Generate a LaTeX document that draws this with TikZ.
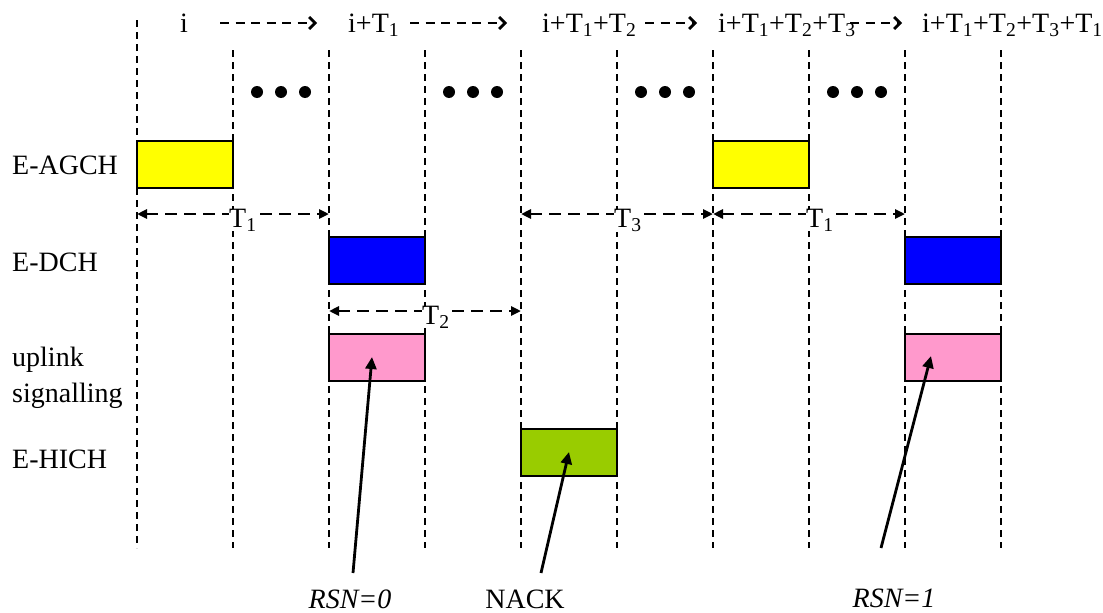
\documentclass[tikz,border=0pt]{standalone}
\usepackage{fontspec}
\setmainfont{Liberation Serif}
\usetikzlibrary{arrows.meta}
\definecolor{boxyellow}{HTML}{FFFF00}
\definecolor{boxblue}{HTML}{0000FF}
\definecolor{boxpink}{HTML}{FF99CC}
\definecolor{boxgreen}{HTML}{99CC00}
\begin{document}
\begin{tikzpicture}[x=1pt,y=-1pt,
  every node/.style={font=\fontsize{28}{33}\selectfont, inner sep=0pt},
  vline/.style={line width=1.6pt, dash pattern=on 6.5pt off 5.5pt},
  toparrow/.style={line width=2.8pt, dash pattern=on 9pt off 6.5pt, -{Straight Barb[length=6pt,width=12pt,line width=2.8pt]}},
  dimarrow/.style={line width=2.6pt, dash pattern=on 12pt off 7pt, {Triangle[length=10pt,width=9pt]}-{Triangle[length=10pt,width=9pt]}},
  ptrarrow/.style={line width=2.8pt, -{Triangle[length=12pt,width=11pt]}},
  slot/.style={draw, line width=2pt, minimum width=96pt, minimum height=47pt},
  dot/.style={circle, fill=black, minimum size=12pt, inner sep=0pt},
  rowlabel/.style={anchor=base west, align=left},
  dimlabel/.style={anchor=base west, fill=white, inner xsep=0pt},
]
\useasboundingbox (0,0) rectangle (1103,613);
% vertical time lines
\coordinate (l0t) at (137,20);
\coordinate (l0b) at (137,548);
\foreach \k in {1,...,9}{
  \coordinate (l\k t) at ({137+96*\k},50);
  \coordinate (l\k b) at ({137+96*\k},548);
}
\foreach \k in {0,...,9}{ \draw[vline] (l\k t) -- (l\k b); }
% top labels
\node[anchor=base] (t0) at (184,32) {i};
\node[anchor=base west] (t1) at (348,32) {i+T\textsubscript{1}};
\node[anchor=base west] (t2) at (542,32) {i+T\textsubscript{1}+T\textsubscript{2}};
\node[anchor=base west] (t3) at (718,32) {i+T\textsubscript{1}+T\textsubscript{2}+T\textsubscript{3}};
\node[anchor=base west] (t4) at (922,32) {i+T\textsubscript{1}+T\textsubscript{2}+T\textsubscript{3}+T\textsubscript{1}};
\coordinate (a1s) at (220,23); \coordinate (a1e) at (317,23);
\coordinate (a2s) at (410,23); \coordinate (a2e) at (507,23);
\coordinate (a3s) at (645,23); \coordinate (a3e) at (697,23);
\coordinate (a4s) at (850,23); \coordinate (a4e) at (902,23);
\draw[toparrow] (a1s) -- (a1e);
\draw[toparrow] (a2s) -- (a2e);
\draw[toparrow] (a3s) -- (a3e);
\draw[toparrow] (a4s) -- (a4e);
% dots
\foreach \c [count=\n] in {281,473,665,857}{
  \node[dot] (da\n) at (\c-24,92) {};
  \node[dot] (db\n) at (\c,92) {};
  \node[dot] (dc\n) at (\c+24,92) {};
}
% row labels
\node[rowlabel] (lagch) at (12,174) {E-AGCH};
\node[rowlabel] (ldch) at (12,271) {E-DCH};
\node[rowlabel] (lup) at (12,366) {uplink};
\node[rowlabel] (lsig) at (12,402) {signalling};
\node[rowlabel] (lhich) at (12,468) {E-HICH};
% slots
\node[slot, fill=boxyellow] (agch1) at (185,164.5) {};
\node[slot, fill=boxyellow] (agch2) at (761,164.5) {};
\node[slot, fill=boxblue] (dch1) at (377,260.5) {};
\node[slot, fill=boxblue] (dch2) at (953,260.5) {};
\node[slot, fill=boxpink] (sig1) at (377,357.5) {};
\node[slot, fill=boxpink] (sig2) at (953,357.5) {};
\node[slot, fill=boxgreen] (hich) at (569,452.5) {};
% timing dimensions
\coordinate (d1a) at (137,214); \coordinate (d1b) at (329,214);
\coordinate (d3a) at (521,214); \coordinate (d3b) at (713,214);
\coordinate (d4a) at (713,214); \coordinate (d4b) at (905,214);
\coordinate (d2a) at (329,311); \coordinate (d2b) at (521,311);
\draw[dimarrow] (d1a) -- (d1b);
\draw[dimarrow] (d3a) -- (d3b);
\draw[dimarrow] (d4a) -- (d4b);
\draw[dimarrow] (d2a) -- (d2b);
\node[dimlabel] (T1a) at (229,227) {T\textsubscript{1}};
\node[dimlabel] (T3) at (614,227) {T\textsubscript{3}};
\node[dimlabel] (T1b) at (806,227) {T\textsubscript{1}};
\node[dimlabel] (T2) at (422,324) {T\textsubscript{2}};
% pointers
\coordinate (p1s) at (353,573); \coordinate (p1e) at (372,357);
\coordinate (p2s) at (541,573); \coordinate (p2e) at (569,452);
\coordinate (p3s) at (881,548); \coordinate (p3e) at (931,356);
\draw[ptrarrow] (p1s) -- (p1e);
\draw[ptrarrow] (p2s) -- (p2e);
\draw[ptrarrow] (p3s) -- (p3e);
\node[anchor=base] (rsn0) at (350,608) {\itshape RSN=0};
\node[anchor=base] (nack) at (525,608) {NACK};
\node[anchor=base] (rsn1) at (894,607) {\itshape RSN=1};
\end{tikzpicture}
\end{document}
